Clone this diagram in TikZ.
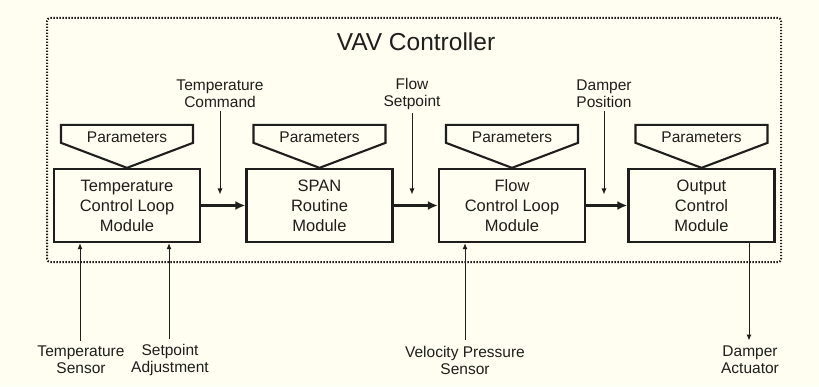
\documentclass[tikz,border=0pt]{standalone}
\usepackage{fontspec}
\setmainfont{Liberation Sans}
\usetikzlibrary{arrows.meta,positioning,calc}
\definecolor{paper}{RGB}{255,254,240}
\definecolor{ink}{RGB}{30,30,28}

\begin{document}
\begin{tikzpicture}[x=1pt,y=1pt,>=Latex,
  module/.style={draw=ink,line width=2.3pt,minimum width=146pt,minimum height=73pt,
    align=center,text=ink,font=\fontsize{16.5}{20}\selectfont},
  signal/.style={align=center,text=ink,font=\fontsize{15.5}{17}\selectfont},
  flow/.style={draw=ink,line width=2.3pt,-{Latex[length=10pt,width=9pt]}},
  wire/.style={draw=ink,line width=1pt,-{Latex[length=6pt,width=5pt]}}]
  % canvas: 1pt = 1px of the original
  \fill[paper] (0,0) rectangle (819,386);
  \draw[ink,line width=2pt,dash pattern=on 1.4pt off 1.6pt,rounded corners=3pt] (47,124) rectangle (781,368);
  \node[text=ink,font=\fontsize{24.5}{28}\selectfont] (title) at (416,344) {VAV Controller};

  % modules
  \node[module] (m1) at (127,180.5) {Temperature\\Control Loop\\Module};
  \node[module] (m2) at (319.5,180.5) {SPAN\\Routine\\Module};
  \node[module] (m3) at (512,180.5) {Flow\\Control Loop\\Module};
  \node[module] (m4) at (701.5,180.5) {Output\\Control\\Module};

  % parameter inputs on top of each module
  \foreach \m in {m1,m2,m3,m4} {
    \draw[ink,line width=2.1pt,line join=miter] (\m.north) -- ++(-66,25) -- ++(0,18)
      -- ++(132,0) -- ++(0,-18) -- cycle;
    \node[text=ink,font=\fontsize{15.5}{18}\selectfont] (\m p) at ($(\m.north)+(0,31)$) {Parameters};
  }

  % module to module
  \draw[flow] (m1) -- (m2);
  \draw[flow] (m2) -- (m3);
  \draw[flow] (m3) -- (m4);

  % intermediate signals
  \node[signal] (tcmd) at (220,292) {Temperature\\Command};
  \node[signal] (fsp) at (412,292) {Flow\\Setpoint};
  \node[signal] (dpos) at (604,292) {Damper\\Position};
  \draw[wire] (tcmd) -- ($(tcmd |- m1.east)+(0,11)$);
  \draw[wire] (fsp) -- ($(fsp |- m2.east)+(0,11)$);
  \draw[wire] (dpos) -- ($(dpos |- m3.east)+(0,11)$);

  % field inputs and output
  \node[signal] (tsen) at (81,26) {Temperature\\Sensor};
  \node[signal] (sadj) at (170,26) {Setpoint\\Adjustment};
  \node[signal] (vps) at (465,26) {Velocity Pressure\\Sensor};
  \node[signal] (dact) at (750,26) {Damper\\Actuator};
  \draw[wire] ($(tsen.north)+(-1,2)$) -- ($(tsen.north |- m1.south)+(-1,0)$);
  \draw[wire] ($(sadj.north)+(-1,2)$) -- ($(sadj.north |- m1.south)+(-1,0)$);
  \draw[wire] ($(vps.north)+(0,2)$) -- (vps.north |- m3.south);
  \draw[wire] ($(dact.north |- m4.south)+(-1,0)$) -- ($(dact.north)+(-1,2)$);
\end{tikzpicture}
\end{document}
